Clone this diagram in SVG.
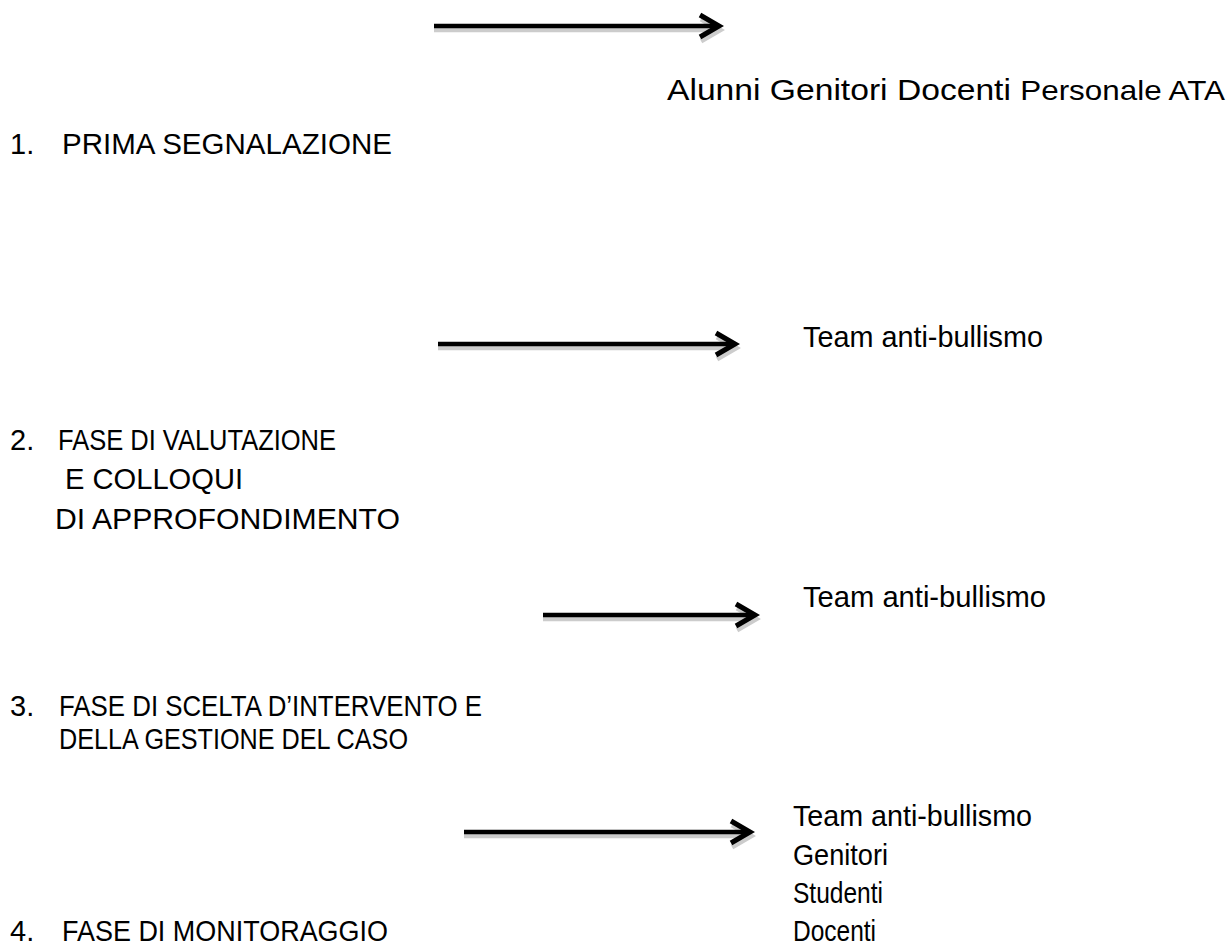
<svg xmlns="http://www.w3.org/2000/svg" width="1229" height="947" viewBox="0 0 1229 947">
<style>
.t{font-family:"Liberation Sans",Arial,sans-serif;font-size:30px;fill:#000}
.n{font-family:"Liberation Sans",Arial,sans-serif;font-size:29px;fill:#000}
.sh{fill:none;stroke:#cccccc;stroke-width:4.5}
.ar{fill:none;stroke:#000;stroke-width:4.5}
.hd{fill:none;stroke:#000;stroke-width:5;stroke-linejoin:miter}
.hds{fill:none;stroke:#cccccc;stroke-width:5;stroke-linejoin:miter}
</style>
<rect width="1229" height="947" fill="#fff"/>
<g id="connectors">
  <g id="arrow1">
    <path class="sh" d="M434 30 H716"/>
    <path class="hds" d="M701 19 L720 30 L701 41"/>
    <path class="ar" d="M434 26 H716"/>
    <path class="hd" d="M700 15 L719 26 L700 37"/>
  </g>
  <g id="arrow2">
    <path class="sh" d="M438 348 H732"/>
    <path class="hds" d="M717 337 L736 348 L717 359"/>
    <path class="ar" d="M438 344 H732"/>
    <path class="hd" d="M716 333 L735 344 L716 355"/>
  </g>
  <g id="arrow3">
    <path class="sh" d="M543 619 H752"/>
    <path class="hds" d="M737 608 L756 619 L737 630"/>
    <path class="ar" d="M543 615 H752"/>
    <path class="hd" d="M736 604 L755 615 L736 626"/>
  </g>
  <g id="arrow4">
    <path class="sh" d="M464 836 H747"/>
    <path class="hds" d="M732 825 L751 836 L732 847"/>
    <path class="ar" d="M464 832 H747"/>
    <path class="hd" d="M731 821 L750 832 L731 843"/>
  </g>
</g>
<g id="actors1">
  <text class="t" x="667" y="100" textLength="558" lengthAdjust="spacingAndGlyphs">Alunni Genitori Docenti <tspan font-size="28">Personale ATA</tspan></text>
</g>
<g id="step1">
  <text class="n" x="10" y="154">1.</text>
  <text class="t" x="62" y="154" textLength="330" lengthAdjust="spacingAndGlyphs">PRIMA SEGNALAZIONE</text>
</g>
<g id="actors2">
  <text class="t" x="803" y="347" textLength="240" lengthAdjust="spacingAndGlyphs">Team  anti-bullismo</text>
</g>
<g id="step2">
  <text class="n" x="10" y="450">2.</text>
  <text class="t" x="58" y="450" textLength="278" lengthAdjust="spacingAndGlyphs">FASE DI VALUTAZIONE</text>
  <text class="t" x="65" y="489" textLength="178" lengthAdjust="spacingAndGlyphs">E  COLLOQUI</text>
  <text class="t" x="55" y="529" textLength="345" lengthAdjust="spacingAndGlyphs">DI APPROFONDIMENTO</text>
</g>
<g id="actors3">
  <text class="t" x="803" y="607" textLength="243" lengthAdjust="spacingAndGlyphs">Team  anti-bullismo</text>
</g>
<g id="step3">
  <text class="n" x="10" y="716">3.</text>
  <text class="t" x="59" y="716" textLength="423" lengthAdjust="spacingAndGlyphs">FASE DI SCELTA D’INTERVENTO E</text>
  <text class="t" x="59" y="749" textLength="349" lengthAdjust="spacingAndGlyphs">DELLA GESTIONE DEL CASO</text>
</g>
<g id="actors4">
  <text class="t" x="793" y="826" textLength="239" lengthAdjust="spacingAndGlyphs">Team anti-bullismo</text>
  <text class="t" x="793" y="865" textLength="95" lengthAdjust="spacingAndGlyphs">Genitori</text>
  <text class="t" x="793" y="903" textLength="90" lengthAdjust="spacingAndGlyphs">Studenti</text>
  <text class="t" x="793" y="941" textLength="83" lengthAdjust="spacingAndGlyphs">Docenti</text>
</g>
<g id="step4">
  <text class="n" x="10" y="941">4.</text>
  <text class="t" x="62" y="941" textLength="326" lengthAdjust="spacingAndGlyphs">FASE DI MONITORAGGIO</text>
</g>
</svg>
